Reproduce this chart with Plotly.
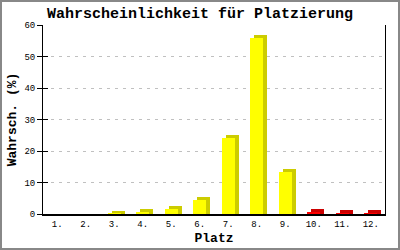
import plotly.graph_objects as go

categories = ["1.", "2.", "3.", "4.", "5.", "6.", "7.", "8.", "9.", "10.", "11.", "12."]
values = [0, 0, 0.15, 0.5, 1.5, 4.6, 24.2, 56.0, 13.2, 0.5, 0.2, 0.2]
front_colors = ["#ffff00"] * 9 + ["#ff0000"] * 3
side_colors = ["#cccc00"] * 9 + ["#cc0000"] * 3
y_ticks = [0, 10, 20, 30, 40, 50, 60]

W, H = 400, 250
ML, MR, MT, MB = 43, 15, 25, 36
pw, ph = W - ML - MR, H - MT - MB
unit_px = pw / 12.0
yunit_px = ph / 60.0
bar_w = 13 / unit_px
dx = 4 / unit_px
dy = 3 / yunit_px

xs = list(range(1, 13))
shadow_vals = [v + dy if v > 0 else 0 for v in values]

fig = go.Figure()
fig.add_trace(go.Bar(x=xs, y=shadow_vals, width=bar_w, offset=-bar_w / 2 + dx,
                     marker=dict(color=side_colors, line=dict(width=0)),
                     hoverinfo="skip", showlegend=False))
fig.add_trace(go.Bar(x=xs, y=values, width=bar_w, offset=-bar_w / 2,
                     marker=dict(color=front_colors, line=dict(width=0)),
                     hoverinfo="skip", showlegend=False))
fig.add_trace(go.Scatter(x=[None], y=[None], yaxis="y2", showlegend=False, hoverinfo="skip"))

mono = "Liberation Mono, DejaVu Sans Mono, monospace"
fig.update_layout(
    width=W, height=H,
    margin=dict(l=ML, r=MR, t=MT, b=MB, autoexpand=False),
    paper_bgcolor="white", plot_bgcolor="white",
    barmode="overlay", bargap=0,
    font=dict(family=mono, color="black", size=9),
    title=dict(text="<b>Wahrscheinlichkeit für Platzierung</b>", x=0.5, xanchor="center",
               y=1 - 13 / H, yanchor="middle", font=dict(family=mono, size=15, color="black")),
    xaxis=dict(range=[0.5, 12.5], tickvals=xs, ticktext=categories, showgrid=False,
               showline=True, linecolor="black", linewidth=2, ticks="", zeroline=False,
               tickfont=dict(size=9), fixedrange=True, automargin=False,
               title=dict(text="<b>Platz</b>", font=dict(family=mono, size=13), standoff=4)),
    yaxis=dict(range=[0, 60], tickvals=y_ticks, showgrid=True, gridcolor="#c0c0c0",
               griddash="3px,5px", gridwidth=1, showline=True, linecolor="black", linewidth=1,
               mirror=True, ticks="outside", ticklen=5, tickcolor="black", zeroline=False,
               tickfont=dict(size=9), fixedrange=True, automargin=False,
               title=dict(text="<b>Wahrsch. (%)</b>", font=dict(family=mono, size=13), standoff=4)),
    yaxis2=dict(range=[0, 60], tickvals=y_ticks, overlaying="y", side="left",
                showticklabels=False, ticks="inside", ticklen=5, tickcolor="black",
                showgrid=False, showline=False, zeroline=False, fixedrange=True, automargin=False),
    shapes=[dict(type="rect", xref="paper", yref="paper",
                 x0=-(ML - 1) / pw, x1=1 + (MR - 1) / pw,
                 y0=-(MB - 1) / ph, y1=1 + (MT - 1) / ph,
                 line=dict(color="#888888", width=2), layer="below")],
)

fig.write_html("out.html")
